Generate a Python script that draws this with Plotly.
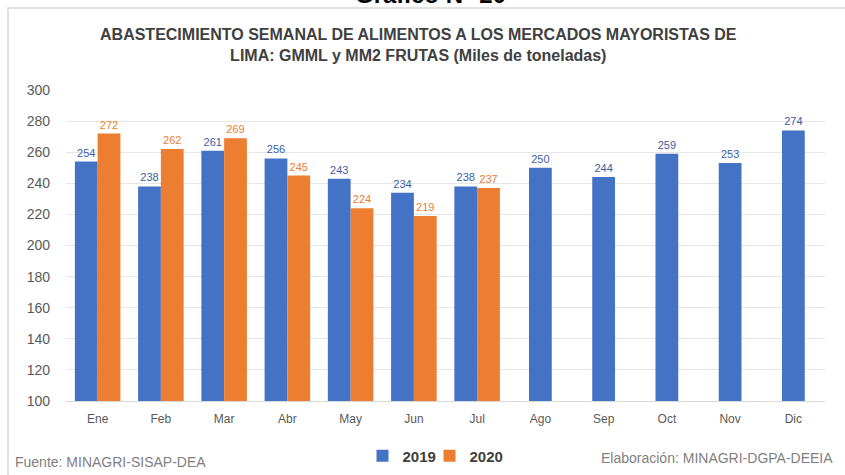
import plotly.graph_objects as go

months = ["Ene", "Feb", "Mar", "Abr", "May", "Jun", "Jul", "Ago", "Sep", "Oct", "Nov", "Dic"]
y2019 = [254, 238, 261, 256, 243, 234, 238, 250, 244, 259, 253, 274]
y2020 = [272, 262, 269, 245, 224, 219, 237]
yticks = [100, 120, 140, 160, 180, 200, 220, 240, 260, 280, 300]

BLUE = "#4472C4"
ORANGE = "#ED7D31"
FONT = "Liberation Sans, Arial, sans-serif"

n20 = len(y2020)
w = 0.36

fig = go.Figure()
# 2019 paired with 2020 (left half of group)
fig.add_trace(go.Bar(
    x=months[:n20], y=y2019[:n20], name="2019",
    marker={"color": BLUE, "line": {"width": 0}},
    width=w, offset=-w,
    text=y2019[:n20], textposition="outside", cliponaxis=False,
    textfont={"color": "#3B5DA8", "size": 11},
    legendgroup="2019",
))
# 2019 alone (centered)
fig.add_trace(go.Bar(
    x=months[n20:], y=y2019[n20:], name="2019",
    marker={"color": BLUE, "line": {"width": 0}},
    width=w, offset=-w / 2,
    text=y2019[n20:], textposition="outside", cliponaxis=False,
    textfont={"color": "#3B5DA8", "size": 11},
    legendgroup="2019", showlegend=False,
))
fig.add_trace(go.Bar(
    x=months[:n20], y=y2020, name="2020",
    marker={"color": ORANGE, "line": {"width": 0}},
    width=w, offset=0,
    text=y2020, textposition="outside", cliponaxis=False,
    textfont={"color": ORANGE, "size": 11},
    legendgroup="2020",
))
# empty spacer entry so the last legend label is not clipped
fig.add_trace(go.Scatter(
    x=[None], y=[None], name=" ", mode="lines",
    line={"width": 0, "color": "rgba(0,0,0,0)"}, hoverinfo="skip",
))

fig.update_layout(
    width=845, height=475,
    barmode="overlay",
    plot_bgcolor="white", paper_bgcolor="white",
    margin={"l": 66, "r": 20, "t": 90, "b": 74, "autoexpand": False},
    font={"family": FONT, "color": "#595959", "size": 13},
    title={
        "text": "ABASTECIMIENTO SEMANAL DE ALIMENTOS A LOS MERCADOS MAYORISTAS DE<br>"
                "LIMA: GMML y MM2 FRUTAS (Miles de toneladas)",
        "x": 0.495, "xanchor": "center", "y": 0.915, "yanchor": "middle",
        "font": {"family": FONT, "size": 16, "color": "#404040", "weight": "bold"},
    },
    xaxis={
        "categoryorder": "array", "categoryarray": months,
        "showgrid": False, "showline": True, "linecolor": "#D9D9D9",
        "ticks": "", "tickfont": {"size": 12, "color": "#595959"},
        "ticklabelstandoff": 7, "automargin": False,
    },
    yaxis={
        "range": [100, 300], "tickvals": yticks, "showgrid": True,
        "gridcolor": "#E6E6E6", "zeroline": False, "ticks": "",
        "tickfont": {"size": 14, "color": "#595959"},
        "ticklabelstandoff": 15, "automargin": False,
    },
    legend={
        "orientation": "h", "xref": "container", "x": 0.429, "xanchor": "left",
        "yref": "container", "y": 0.04, "yanchor": "middle",
        "font": {"size": 15, "color": "#404040", "weight": "bold"},
        "entrywidth": 22, "itemwidth": 30, "traceorder": "normal",
    },
    showlegend=True,
)

fig.add_annotation(text="Fuente: MINAGRI-SISAP-DEA", xref="paper", yref="paper",
                   x=-0.0698, y=-0.196, xanchor="left", yanchor="middle", showarrow=False,
                   font={"size": 14, "color": "#7F7F7F"})
fig.add_annotation(text="Elaboración: MINAGRI-DGPA-DEEIA", xref="paper", yref="paper",
                   x=1.013, y=-0.183, xanchor="right", yanchor="middle", showarrow=False,
                   font={"size": 14, "color": "#7F7F7F"})
# cut-off figure caption at the very top
fig.add_annotation(text="Gráfico N° 20", xref="paper", yref="paper",
                   x=0.48, y=1, xanchor="center", yanchor="bottom", yshift=80,
                   showarrow=False,
                   font={"size": 24, "color": "#000000", "weight": "bold"})
# frame around the chart
fig.add_shape(type="rect", xref="paper", yref="paper",
              x0=-0.0764, x1=1.04, y0=-0.3, y1=1.2637,
              line={"color": "#D9D9D9", "width": 1.5})

fig.write_html("out.html", config={"displayModeBar": False},
               post_script="document.body.style.margin='0';")
